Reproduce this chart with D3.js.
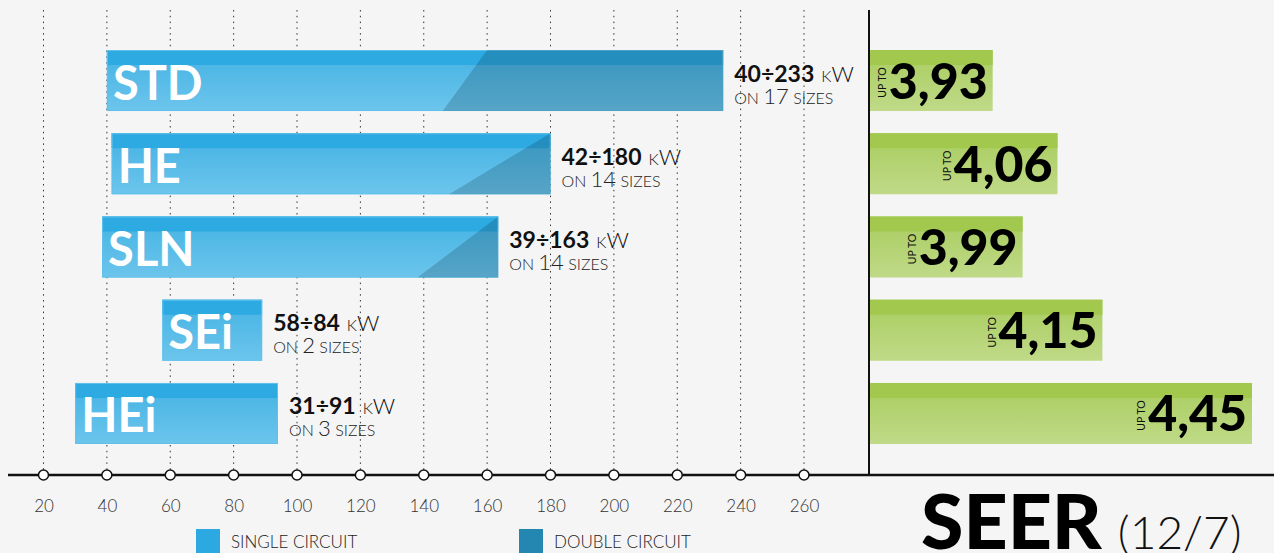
<!DOCTYPE html>
<html>
<head>
<meta charset="utf-8">
<script src="https://cdn.jsdelivr.net/npm/d3@7"></script>
<style>
  html, body { margin: 0; padding: 0; background: #f5f5f5; }
  svg { display: block; }
  text { font-family: Lato, "Open Sans", sans-serif; }
</style>
</head>
<body>
<script>
// ---------- data ----------
const categories   = ["STD", "HE", "SLN", "SEi", "HEi"];
const capMin       = [40, 42, 39, 58, 31];          // kW (label)
const capMax       = [233, 180, 163, 84, 91];       // kW (label)
const sizes        = [17, 14, 14, 2, 3];
const barStart     = [40, 41.5, 38.5, 57.5, 30];    // bar extent
const barEnd       = [234.5, 180, 163.5, 89, 94];
const doubleTop    = [160, 180, 163.5, null, null]; // double-circuit start (top edge)
const doubleBottom = [146, 148, 138, null, null];   // double-circuit start (bottom edge)
const seer         = [3.93, 4.06, 3.99, 4.15, 4.45];
const seerLabels   = ["3,93", "4,06", "3,99", "4,15", "4,45"];
const xTicks       = [20, 40, 60, 80, 100, 120, 140, 160, 180, 200, 220, 240, 260];
const legendItems  = ["SINGLE CIRCUIT", "DOUBLE CIRCUIT"];
const legendColors = ["#2ca9e1", "#2487b1"];

// ---------- layout ----------
const W = 1274, H = 553;
const svg = d3.select("body").append("svg").attr("width", W).attr("height", H);
svg.append("rect").attr("width", W).attr("height", H).attr("fill", "#f5f5f5");

const x = d3.scaleLinear().domain([20, 260]).range([43.5, 804]);
const y = d3.scaleBand().domain(categories).range([50, 444]).paddingInner(0.267).paddingOuter(0);
const xs = d3.scaleLinear().domain([3.684, 4.45]).range([870, 1252]);
const axisY = 475, gridTop = 10;

const defs = svg.append("defs");
function vgrad(id, c1, c2) {
  const g = defs.append("linearGradient").attr("id", id).attr("x1", 0).attr("y1", 0).attr("x2", 0).attr("y2", 1);
  g.append("stop").attr("offset", "0%").attr("stop-color", c1);
  g.append("stop").attr("offset", "100%").attr("stop-color", c2);
}
vgrad("blueBody", "#43b2e3", "#6cc5ec");
vgrad("greenBody", "#a8cc5e", "#c0da88");

// ---------- grid ----------
svg.append("g").selectAll("line").data(xTicks).join("line")
  .attr("x1", d => x(d)).attr("x2", d => x(d))
  .attr("y1", gridTop).attr("y2", axisY)
  .attr("stroke", "#333").attr("stroke-width", 1)
  .attr("stroke-dasharray", "1.5,4.3");

// ---------- capacity bars ----------
const rows = categories.map((c, i) => ({
  c, i, s: barStart[i], e: barEnd[i], mn: capMin[i], mx: capMax[i], n: sizes[i],
  dt: doubleTop[i], db: doubleBottom[i]
}));
const bandTopH = 15;
const bars = svg.append("g").selectAll("g").data(rows).join("g");
bars.append("rect")
  .attr("x", d => x(d.s)).attr("y", d => y(d.c))
  .attr("width", d => x(d.e) - x(d.s)).attr("height", y.bandwidth())
  .attr("fill", "url(#blueBody)");
bars.append("rect")
  .attr("x", d => x(d.s)).attr("y", d => y(d.c))
  .attr("width", d => x(d.e) - x(d.s)).attr("height", bandTopH)
  .attr("fill", "#2daae1");
bars.append("rect")
  .attr("x", d => x(d.s) + 0.5).attr("y", d => y(d.c) + 0.5)
  .attr("width", d => x(d.e) - x(d.s) - 1).attr("height", y.bandwidth() - 1)
  .attr("fill", "none").attr("stroke", "#5fc1ec").attr("stroke-width", 1);
// double circuit overlay
bars.filter(d => d.dt != null).append("path")
  .attr("d", d => {
    const t = y(d.c), b = y(d.c) + y.bandwidth();
    return `M${x(d.dt)},${t}L${x(d.e)},${t}L${x(d.e)},${b}L${x(d.db)},${b}Z`;
  })
  .attr("fill", "#001a2a").attr("fill-opacity", 0.19);
// category label inside bar
bars.append("text")
  .attr("x", d => x(d.s) + 6).attr("y", d => y(d.c) + y.bandwidth() / 2 + 19)
  .attr("fill", "#fff").attr("font-size", 47).attr("font-weight", 700)
  .text(d => d.c);
// range labels
const lbl = bars.append("g")
  .attr("transform", d => `translate(${x(d.e) + 11},${y(d.c) + y.bandwidth() / 2})`);
const l1 = lbl.append("text").attr("y", 1).attr("fill", "#111");
l1.append("tspan").attr("font-size", 23).attr("font-weight", 700).text(d => `${d.mn}÷${d.mx}`);
l1.append("tspan").attr("font-size", 16).attr("font-weight", 300).attr("dx", 7).text("K");
l1.append("tspan").attr("font-size", 22).attr("font-weight", 300).text("W");
const l2 = lbl.append("text").attr("y", 23).attr("fill", "#222").attr("font-weight", 300);
l2.append("tspan").attr("font-size", 16).text("ON ");
l2.append("tspan").attr("font-size", 22).text(d => d.n);
l2.append("tspan").attr("font-size", 16).text(" SIZES");

// ---------- SEER bars ----------
const srows = categories.map((c, i) => ({ c, v: seer[i], t: seerLabels[i] }));
const sb = svg.append("g").selectAll("g").data(srows).join("g");
sb.append("rect")
  .attr("x", xs(xs.domain()[0])).attr("y", d => y(d.c))
  .attr("width", d => xs(d.v) - xs(xs.domain()[0])).attr("height", y.bandwidth())
  .attr("fill", "url(#greenBody)");
sb.append("rect")
  .attr("x", xs(xs.domain()[0])).attr("y", d => y(d.c))
  .attr("width", d => xs(d.v) - xs(xs.domain()[0])).attr("height", bandTopH)
  .attr("fill", "#a2c84e");
sb.each(function(d) {
  const g = d3.select(this);
  const cy = y(d.c) + y.bandwidth() / 2;
  const num = g.append("text")
    .attr("x", xs(d.v) - 5).attr("y", cy + 18)
    .attr("text-anchor", "end").attr("font-size", 50).attr("font-weight", 900)
    .attr("fill", "#000").text(d.t);
  const bb = num.node().getBBox();
  g.append("text")
    .attr("transform", `translate(${bb.x - 3},${cy + 2}) rotate(-90)`)
    .attr("text-anchor", "middle").attr("font-size", 10.5).attr("font-weight", 400)
    .attr("fill", "#111").text("UP TO");
});

// ---------- axes ----------
svg.append("line").attr("x1", 869).attr("x2", 869).attr("y1", gridTop).attr("y2", axisY)
  .attr("stroke", "#111").attr("stroke-width", 2);
svg.append("line").attr("x1", 8).attr("x2", W).attr("y1", axisY).attr("y2", axisY)
  .attr("stroke", "#111").attr("stroke-width", 2.5);

const axis = svg.append("g").attr("transform", `translate(0,${axisY})`)
  .call(d3.axisBottom(x).tickValues(xTicks).tickSize(0).tickPadding(25));
axis.select(".domain").remove();
axis.selectAll(".tick text")
  .attr("font-family", "Lato, sans-serif").attr("font-size", 17).attr("font-weight", 300)
  .attr("fill", "#333");
svg.append("g").selectAll("circle").data(xTicks).join("circle")
  .attr("cx", d => x(d)).attr("cy", axisY).attr("r", 5)
  .attr("fill", "#fff").attr("stroke", "#111").attr("stroke-width", 1.5);

// ---------- legend ----------
const legX = [196, 519];
const lg = svg.append("g").selectAll("g").data(legendItems).join("g")
  .attr("transform", (d, i) => `translate(${legX[i]},529)`);
lg.append("rect").attr("width", 24).attr("height", 26).attr("fill", (d, i) => legendColors[i]);
lg.append("text").attr("x", 35).attr("y", 19).attr("font-size", 17).attr("font-weight", 300)
  .attr("fill", "#222").text(d => d);

// ---------- SEER title ----------
const st = svg.append("text").attr("x", 921).attr("y", 549).attr("fill", "#000");
st.append("tspan").attr("font-size", 77).attr("font-weight", 900).text("SEER");
st.append("tspan").attr("dx", 16).attr("font-size", 46).attr("font-weight", 300).attr("fill", "#111").text("(12/7)");
</script>
</body>
</html>
